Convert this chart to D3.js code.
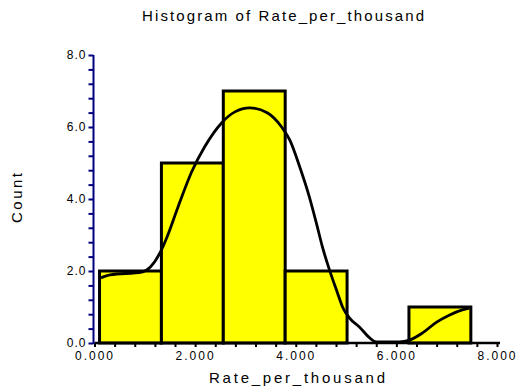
<!DOCTYPE html>
<html>
<head>
<meta charset="utf-8">
<script src="https://cdn.jsdelivr.net/npm/d3@7"></script>
<style>
  html, body { margin: 0; padding: 0; background: #fff; }
  svg { display: block; }
  text { font-family: "Liberation Sans", Arial, sans-serif; fill: #000; }
</style>
</head>
<body>
<svg id="chart" width="518" height="387"></svg>
<script>
// Histogram bin edges (Rate_per_thousand) and counts per bin
const binEdges = [0.1, 1.33, 2.56, 3.79, 5.02, 6.25, 7.48];
const binCounts = [2, 5, 7, 2, 0, 1];

// Fitted density curve, scaled to counts
const curveX = [0.13, 0.31, 0.94, 1.30, 1.44, 1.66, 1.93, 2.19, 2.53, 2.79, 3.085, 3.44, 3.72, 3.88, 4.08, 4.27, 4.41, 4.53, 4.67, 4.83, 4.93, 5.07, 5.27, 5.47, 5.60, 6.06, 6.26, 6.52, 6.80, 7.06, 7.31, 7.45];
const curveY = [1.81, 1.89, 1.97, 2.50, 2.94, 3.78, 4.75, 5.45, 6.12, 6.42, 6.53, 6.39, 6.00, 5.64, 4.89, 4.06, 3.33, 2.67, 2.03, 1.39, 1.00, 0.69, 0.44, 0.14, 0.03, 0.03, 0.08, 0.28, 0.58, 0.78, 0.92, 0.97];

// Axis tick labels
const xTickLabels = ["0.000", "2.000", "4.000", "6.000", "8.000"];
const yTickLabels = ["0.0", "2.0", "4.0", "6.0", "8.0"];

const svg = d3.select("#chart");

const x = d3.scaleLinear().domain([0, 8]).range([94.5, 497]);
const y = d3.scaleLinear().domain([0, 8]).range([343, 55]);

// Title
svg.append("text")
  .attr("x", 142).attr("y", 21)
  .attr("font-size", 15)
  .attr("textLength", 282).attr("lengthAdjust", "spacing")
  .text("Histogram of Rate_per_thousand");

// Bars
const bins = binCounts.map((c, i) => ({ x0: binEdges[i], x1: binEdges[i + 1], count: c }));
svg.append("g")
  .selectAll("rect")
  .data(bins.filter(d => d.count > 0))
  .join("rect")
  .attr("x", d => x(d.x0))
  .attr("y", d => y(d.count))
  .attr("width", d => x(d.x1) - x(d.x0))
  .attr("height", d => y(0) - y(d.count))
  .attr("fill", "#ffff00")
  .attr("stroke", "#000")
  .attr("stroke-width", 3);

// Density curve
const line = d3.line()
  .x(d => x(d[0]))
  .y(d => y(d[1]))
  .curve(d3.curveMonotoneX);
svg.append("path")
  .datum(curveX.map((v, i) => [v, curveY[i]]))
  .attr("d", line)
  .attr("fill", "none")
  .attr("stroke", "#000")
  .attr("stroke-width", 2.8);

// X axis
const minorTicks = d3.range(0, 8.0001, 0.4);
const xAxis = d3.axisBottom(x)
  .tickValues(minorTicks)
  .tickSize(4)
  .tickPadding(4)
  .tickFormat(d => {
    const k = Math.round(d / 0.4);
    return k % 5 === 0 ? xTickLabels[k / 5] : "";
  });
const gx = svg.append("g")
  .attr("transform", `translate(0,${y(0)})`)
  .call(xAxis);
gx.select(".domain").remove();
gx.selectAll(".tick line").attr("stroke", "#000").attr("stroke-width", 2);
gx.selectAll(".tick text")
  .attr("font-size", 12)
  .attr("fill", "#000")
  .style("letter-spacing", "2px");
svg.append("line")
  .attr("x1", x(0)).attr("x2", 500)
  .attr("y1", y(0)).attr("y2", y(0))
  .attr("stroke", "#000").attr("stroke-width", 2.5);

// Y axis
const yAxis = d3.axisLeft(y)
  .tickValues(minorTicks)
  .tickSize(5)
  .tickPadding(2)
  .tickFormat(d => {
    const k = Math.round(d / 0.4);
    return k % 5 === 0 ? yTickLabels[k / 5] : "";
  });
const gy = svg.append("g")
  .attr("transform", `translate(${x(0) - 1},0)`)
  .call(yAxis);
gy.select(".domain").remove();
gy.selectAll(".tick line").attr("stroke", "#000080").attr("stroke-width", 2);
gy.selectAll(".tick text")
  .attr("font-size", 12)
  .attr("fill", "#000")
  .style("letter-spacing", "1px");
svg.append("line")
  .attr("x1", x(0) - 1).attr("x2", x(0) - 1)
  .attr("y1", y(8)).attr("y2", y(0) + 1)
  .attr("stroke", "#000080").attr("stroke-width", 2);

// Axis titles
svg.append("text")
  .attr("x", 209).attr("y", 383)
  .attr("font-size", 15)
  .attr("textLength", 176).attr("lengthAdjust", "spacing")
  .text("Rate_per_thousand");

svg.append("text")
  .attr("transform", "translate(22,223) rotate(-90)")
  .attr("font-size", 15)
  .attr("textLength", 50).attr("lengthAdjust", "spacing")
  .text("Count");
</script>
</body>
</html>
